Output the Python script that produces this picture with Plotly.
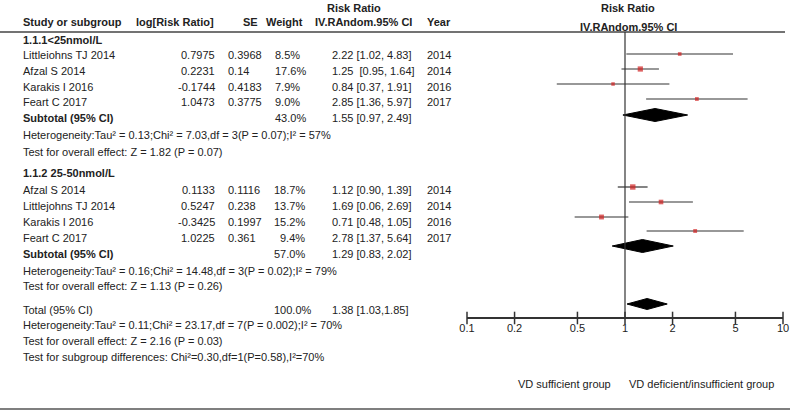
import plotly.graph_objects as go

# ---- data ----
g1_study = ["Littleiohns TJ 2014", "Afzal S 2014", "Karakis I 2016", "Feart C 2017"]
g1_logrr = [0.7975, 0.2231, -0.1744, 1.0473]
g1_se = [0.3968, 0.14, 0.4183, 0.3775]
g1_weight = [8.5, 17.6, 7.9, 9.0]
g1_rr = [2.22, 1.25, 0.84, 2.85]
g1_lo = [1.02, 0.95, 0.37, 1.36]
g1_hi = [4.83, 1.64, 1.91, 5.97]
g1_ci_text = ["2.22 [1.02, 4.83]", "1.25  [0.95, 1.64]", "0.84 [0.37, 1.91]", "2.85 [1.36, 5.97]"]
g1_year = [2014, 2014, 2016, 2017]
g1_sub = {"weight": 43.0, "rr": 1.55, "lo": 0.97, "hi": 2.49, "text": "1.55 [0.97, 2.49]"}

g2_study = ["Afzal S 2014", "Littlejohns TJ 2014", "Karakis I 2016", "Feart C 2017"]
g2_logrr = [0.1133, 0.5247, -0.3425, 1.0225]
g2_se = [0.1116, 0.238, 0.1997, 0.361]
g2_weight = [18.7, 13.7, 15.2, 9.4]
g2_rr = [1.12, 1.69, 0.71, 2.78]
g2_lo = [0.90, 1.06, 0.48, 1.37]   # line drawn from 1.06 (label reads 0.06)
g2_hi = [1.39, 2.69, 1.05, 5.64]
g2_ci_text = ["1.12 [0.90, 1.39]", "1.69 [0.06, 2.69]", "0.71 [0.48, 1.05]", "2.78 [1.37, 5.64]"]
g2_year = [2014, 2014, 2016, 2017]
g2_sub = {"weight": 57.0, "rr": 1.29, "lo": 0.83, "hi": 2.02, "text": "1.29 [0.83, 2.02]"}

total = {"weight": 100.0, "rr": 1.38, "lo": 1.03, "hi": 1.85, "text": "1.38 [1.03,1.85]"}

tick_vals = [0.1, 0.2, 0.5, 1, 2, 5, 10]

g1_het = "Heterogeneity:Tau² = 0.13;Chi² = 7.03,df = 3(P = 0.07);I² = 57%"
g1_z = "Test for overall effect: Z = 1.82 (P = 0.07)"
g2_het = "Heterogeneity:Tau² = 0.16;Chi² = 14.48,df = 3(P = 0.02);I² = 79%"
g2_z = "Test for overall effect: Z = 1.13 (P = 0.26)"
tot_het = "Heterogeneity:Tau² = 0.11;Chi² = 23.17,df = 7(P = 0.002);I² = 70%"
tot_z = "Test for overall effect: Z = 2.16 (P = 0.03)"
sub_diff = "Test for subgroup differences: Chi²=0.30,df=1(P=0.58),I²=70%"

# ---- layout positions (pixels) ----
W, H = 800, 413
AXIS_Y = 318
g1_text_y = [55, 71, 87, 102]
g1_mark_y = [54, 69, 84, 99]
g2_text_y = [190, 206, 222, 238]
g2_mark_y = [187, 202, 217, 231]

FONT = "Arial, Liberation Sans, sans-serif"
TXT = "#222222"

fig = go.Figure()
ann = []


def text(x, y, s, anchor="left", bold=False):
    ann.append(dict(x=x / W, y=y, xref="paper", yref="y", text=f"<b>{s}</b>" if bold else s,
                    showarrow=False, xanchor=anchor, yanchor="middle", borderpad=0,
                    font=dict(family=FONT, size=11, color=TXT)))


# headers
text(354, 8, "Risk Ratio", "center", True)
text(22, 22, "Study or subgroup", bold=True)
text(135, 22, "log[Risk Ratio]", bold=True)
text(242, 22, "SE", bold=True)
text(265, 22, "Weight", bold=True)
text(314, 22, "IV.RAndom.95% CI", bold=True)
text(426, 22, "Year", bold=True)
text(628, 8, "Risk Ratio", "center", True)
text(628, 27, "IV.RAndom.95% CI", "center", True)


def group_rows(title, title_y, study, logrr, se, weight, ci, year, ys, w_x, w_anchor):
    text(22, title_y, title, bold=True)
    for i in range(len(study)):
        y = ys[i]
        text(22, y, study[i])
        text(216, y, str(logrr[i]), "right")
        text(227, y, str(se[i]))
        text(w_x, y, f"{weight[i]:.1f}%", w_anchor)
        text(331, y, ci[i])
        text(426, y, str(year[i]))


group_rows("1.1.1<25nmol/L", 40, g1_study, g1_logrr, g1_se, g1_weight, g1_ci_text, g1_year,
           g1_text_y, 274, "left")
text(22, 118, "Subtotal (95% CI)", bold=True)
text(274, 118, f"{g1_sub['weight']:.1f}%")
text(331, 118, g1_sub["text"])
text(22, 135, g1_het)
text(22, 152, g1_z)

group_rows("1.1.2 25-50nmol/L", 173, g2_study, g2_logrr, g2_se, g2_weight, g2_ci_text, g2_year,
           g2_text_y, 306, "right")
text(22, 254, "Subtotal (95% CI)", bold=True)
text(306, 254, f"{g2_sub['weight']:.1f}%", "right")
text(331, 254, g2_sub["text"])
text(22, 271, g2_het)
text(22, 286, g2_z)

text(22, 310, "Total (95% CI)")
text(273, 310, f"{total['weight']:.1f}%")
text(331, 310, total["text"])
text(22, 325, tot_het)
text(22, 341, tot_z)
text(22, 357, sub_diff)

text(612, 384, "VD sufficient group", "right")
text(628, 384, "VD deficient/insufficient group", "left")

# CI lines
ci_x, ci_y = [], []
for lo, hi, y in zip(g1_lo + g2_lo, g1_hi + g2_hi, g1_mark_y + g2_mark_y):
    ci_x += [lo, hi, None]
    ci_y += [y, y, None]
fig.add_trace(go.Scatter(x=ci_x, y=ci_y, mode="lines", line=dict(color="#333333", width=1.2),
                         hoverinfo="skip", showlegend=False))

# study squares
weights = g1_weight + g2_weight
fig.add_trace(go.Scatter(x=g1_rr + g2_rr, y=g1_mark_y + g2_mark_y, mode="markers",
                         marker=dict(symbol="square", color="#d01f1f",
                                     size=[1.25 * w ** 0.5 for w in weights], line=dict(width=0)),
                         showlegend=False))

# diamonds
for d, y, h in [(g1_sub, 115, 6.5), (g2_sub, 246, 6.5), (total, 304, 5.5)]:
    fig.add_trace(go.Scatter(x=[d["lo"], d["rr"], d["hi"], d["rr"], d["lo"]],
                             y=[y, y - h, y, y + h, y], mode="lines", fill="toself",
                             fillcolor="black", line=dict(color="black", width=1),
                             showlegend=False, hoverinfo="skip"))

# tick marks crossing the axis line
fig.add_trace(go.Scatter(x=tick_vals, y=[AXIS_Y] * len(tick_vals), mode="markers",
                         marker=dict(symbol="line-ns", size=9, line=dict(color="#333333", width=1.5)),
                         cliponaxis=False, showlegend=False, hoverinfo="skip"))

shapes = [
    dict(type="line", xref="paper", yref="y", x0=0, x1=785 / W, y0=32, y1=32,
         line=dict(color="#444444", width=1.5)),
    dict(type="line", xref="paper", yref="y", x0=0, x1=790 / W, y0=409, y1=409,
         line=dict(color="#555555", width=1.5)),
    dict(type="line", xref="x", yref="y", x0=1, x1=1, y0=32, y1=AXIS_Y,
         line=dict(color="#333333", width=1.2)),
]

fig.update_layout(
    width=W, height=H, margin=dict(l=0, r=0, t=0, b=0, autoexpand=False),
    paper_bgcolor="white", plot_bgcolor="white",
    annotations=ann, shapes=shapes,
    xaxis=dict(type="log", range=[-1, 1], domain=[467 / W, 783 / W], anchor="free",
               position=(H - AXIS_Y) / H, showline=True, linecolor="#333333", linewidth=1.5,
               showgrid=False, zeroline=False, ticks="", tickvals=tick_vals, automargin=False,
               ticktext=[str(v) for v in tick_vals],
               tickfont=dict(family=FONT, size=11, color=TXT)),
    yaxis=dict(range=[H, 0], domain=[0, 1], visible=False, showgrid=False, zeroline=False,
               automargin=False),
)

fig.write_html("out.html", config={"displayModeBar": False},
               post_script="document.body.style.margin='0';")
